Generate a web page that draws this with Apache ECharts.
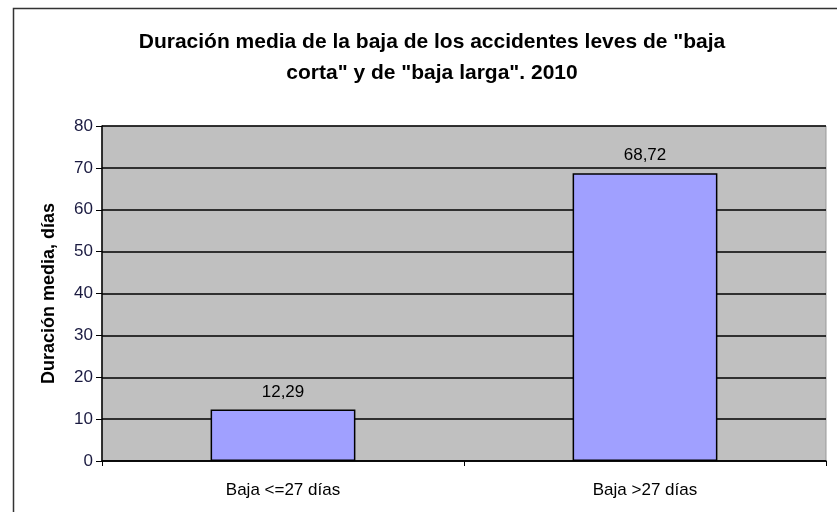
<!DOCTYPE html>
<html><head><meta charset="utf-8">
<script src="https://cdn.jsdelivr.net/npm/echarts@6/dist/echarts.min.js"></script>
<style>html,body{margin:0;padding:0;background:#fff}#c{width:837px;height:512px}</style>
</head><body><div id="c"></div>
<script>
const categories = ['Baja <=27 días', 'Baja >27 días'];
const values = [12.29, 68.72];
const valueLabels = ['12,29', '68,72'];
const yTicks = [0, 10, 20, 30, 40, 50, 60, 70, 80];
const titleText = 'Duración media de la baja de los accidentes leves de "baja\ncorta" y de "baja larga". 2010';
const yName = 'Duración media, días';

const chart = echarts.init(document.getElementById('c'), null, {renderer: 'canvas'});
chart.setOption({
  animation: false,
  backgroundColor: '#fff',
  title: {
    text: titleText, left: 427, top: 22, textAlign: 'center',
    textStyle: {fontFamily: 'Liberation Sans', fontWeight: 'bold', fontSize: 21, color: '#000', lineHeight: 31}
  },
  graphic: [{
    type: 'rect', shape: {x: 13.5, y: 8.5, width: 840, height: 520},
    style: {fill: 'none', stroke: '#333', lineWidth: 1.5}, silent: true
  }],
  grid: {left: 102, top: 126, width: 724, height: 335, backgroundColor: '#C0C0C0', show: true, borderColor: '#999', borderWidth: 1},
  xAxis: {
    type: 'category', data: categories,
    axisLine: {lineStyle: {color: '#000', width: 1.5}},
    axisTick: {show: true, length: 5, lineStyle: {color: '#000'}},
    axisLabel: {fontFamily: 'Liberation Sans', fontSize: 17, color: '#000', margin: 21}
  },
  yAxis: {
    type: 'value', min: 0, max: 80, interval: 10,
    name: yName, nameLocation: 'middle', nameGap: 44,
    nameTextStyle: {fontFamily: 'Liberation Sans', fontWeight: 'bold', fontSize: 18, color: '#000'},
    axisLine: {show: true, lineStyle: {color: '#000', width: 1.5}},
    axisTick: {show: true, length: 6, lineStyle: {color: '#000'}},
    axisLabel: {fontFamily: 'Liberation Sans', fontSize: 17, color: '#1a1a40', margin: 9,
      formatter: v => yTicks.includes(v) ? String(v) : ''},
    splitLine: {show: true, lineStyle: {color: '#000', width: 1.5}}
  },
  series: [{
    type: 'bar', data: values, barWidth: '40%',
    itemStyle: {color: '#A0A0FF', borderColor: '#000', borderWidth: 1.5},
    label: {show: true, position: 'top', distance: 9, fontFamily: 'Liberation Sans', fontSize: 17, color: '#000',
      formatter: p => valueLabels[p.dataIndex]}
  }]
});
</script></body></html>
